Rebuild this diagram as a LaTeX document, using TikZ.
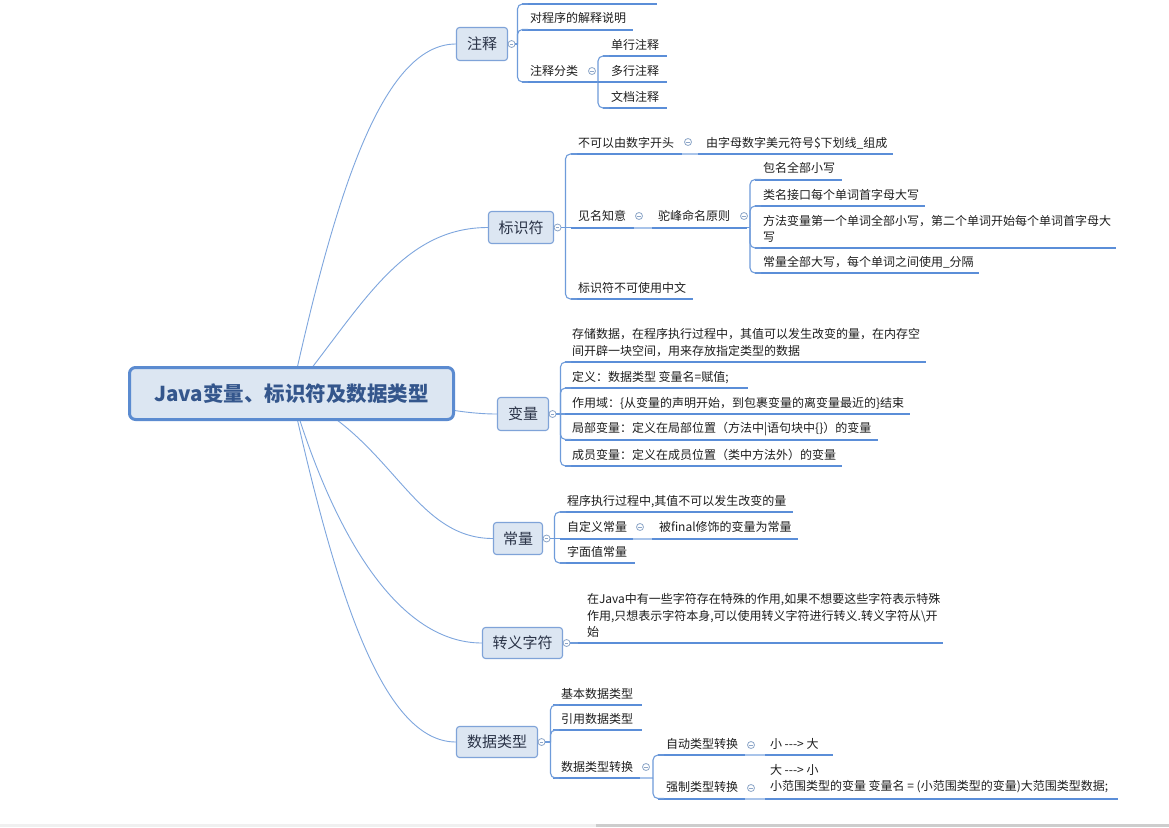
\documentclass[tikz,border=0pt]{standalone}
\usepackage{fontspec}
\setmainfont{Noto Sans CJK SC}
\usetikzlibrary{backgrounds}
\definecolor{topicfill}{HTML}{DCE6F2}
\definecolor{topicborder}{HTML}{7FA3D8}
\definecolor{rootborder}{HTML}{5B8BD0}
\definecolor{roottext}{HTML}{34568C}
\definecolor{topictext}{HTML}{2A3347}
\definecolor{leaftext}{HTML}{1E1E1E}
\definecolor{branchcol}{HTML}{7EA6DE}
\definecolor{brkcol}{HTML}{6E9BDA}
\definecolor{ulcol}{HTML}{5B8ED8}
\definecolor{lnkcol}{HTML}{A9C4EA}
\definecolor{markcol}{HTML}{8DA6C8}
\definecolor{sbA}{HTML}{F0F0F0}
\definecolor{sbB}{HTML}{CDCDCD}
\newcommand\leaf[5][]{\node[leaf,#1] (#2) at (#3) {#5};\draw[ul] (#2.south west) -- ++(#4,0);}
\begin{document}
\begin{tikzpicture}[x=1pt,y=-1pt,
  leaf/.style={anchor=south west, inner xsep=8pt, inner ysep=5.4pt, outer sep=0pt, font=\fontsize{12}{16.5}\selectfont, text=leaftext, text height=9pt, text depth=1.5pt},
  mline/.style={text height=, text depth=, align=left},
  topic/.style={draw=topicborder, fill=topicfill, line width=1.1pt, rounded corners=3pt, font=\fontsize{15}{18}\selectfont, text=topictext, inner sep=0pt},
  root/.style={draw=rootborder, fill=topicfill, line width=3pt, rounded corners=6pt, font=\fontsize{20.5}{24}\selectfont\bfseries, text=roottext, minimum width=324pt, minimum height=52pt, inner sep=0pt},
  marker/.style={circle, draw=markcol, fill=white, line width=0.8pt, minimum size=7pt, inner sep=0pt, path picture={\draw[markcol,line width=0.7pt] ([xshift=-1.8pt]path picture bounding box.center) -- ([xshift=1.8pt]path picture bounding box.center);}},
  branch/.style={draw=branchcol, line width=0.9pt},
  brk/.style={draw=brkcol, line width=1.1pt, rounded corners=5pt},
  ul/.style={draw=ulcol, line width=2pt},
  lnk/.style={draw=lnkcol, line width=2pt}
]
\useasboundingbox (0,0) rectangle (1169,827);
% root and main topics
\node[root] (root) at (291.5,393.5) {Java变量、标识符及数据类型};
\node[topic, minimum width=51pt, minimum height=33pt] (t1) at (482,44) {注释};
\node[topic, minimum width=65pt, minimum height=32pt] (t2) at (521,227.5) {标识符};
\node[topic, minimum width=51pt, minimum height=33pt] (t3) at (523,414) {变量};
\node[topic, minimum width=49pt, minimum height=32pt] (t4) at (518,538.5) {常量};
\node[topic, minimum width=80pt, minimum height=31pt] (t5) at (522.5,643) {转义字符};
\node[topic, minimum width=81pt, minimum height=31pt] (t6) at (497,742) {数据类型};
\begin{pgfonlayer}{background}
\fill[white] (0,0) rectangle (1169,827);
\fill[sbA] (0,824) rectangle (596,827);
\fill[sbB] (596,824) rectangle (1169,827);
\draw[branch] (root.center) .. controls (335,195) and (382,44) .. (t1.west);
\draw[branch] (root.center) .. controls (360,310) and (400,227.5) .. (t2.west);
\draw[branch] (root.center) .. controls (400,393) and (440,414) .. (t3.west);
\draw[branch] (root.center) .. controls (392,436) and (412,538.5) .. (t4.west);
\draw[branch] (root.center) .. controls (335,540) and (400,643) .. (t5.west);
\draw[branch] (root.center) .. controls (335,590) and (382,742) .. (t6.west);
\end{pgfonlayer}
\node[marker] (m1) at ([xshift=3.5pt]t1.east) {};
\node[marker] (m2) at ([xshift=3.5pt]t2.east) {};
\node[marker] (m3) at ([xshift=3.5pt]t3.east) {};
\node[marker] (m4) at ([xshift=3.5pt]t4.east) {};
\node[marker] (m5) at ([xshift=3.5pt]t5.east) {};
\node[marker] (m6) at ([xshift=3.5pt]t6.east) {};

% ---------- 注释 ----------
\coordinate (z0) at (522,4);
\leaf{dcx}{522,29.5}{111}{对程序的解释说明}
\leaf{fl}{522,82}{76}{注释分类}
\leaf{dh}{603,56}{64}{单行注释}
\leaf{duo}{603,82}{64}{多行注释}
\leaf{wd}{603,108}{64}{文档注释}
\draw[ul] (z0) -- ++(135,0);
\coordinate (bx1) at ([xshift=2pt]m1.east);
\draw[brk] (m1.east) -- (bx1);
\draw[brk] (bx1) |- ([xshift=6pt]z0);
\draw[brk] (bx1) |- ([xshift=6pt]dcx.south west);
\draw[brk] (bx1) |- ([xshift=6pt]fl.south west);
\node[marker] (mf) at (592,71) {};
\coordinate (fle) at ([xshift=76pt]fl.south west);
\draw[brk] (fle) |- ([xshift=6pt]dh.south west);
\draw[brk] (fle) |- ([xshift=6pt]wd.south west);
\draw[ul] (fle) -- (duo.south west);

% ---------- 标识符 ----------
\leaf[inner xsep=7pt]{a1}{571,154}{111}{不可以由数字开头}
\leaf{a2}{698,154}{195}{由字母数字美元符号\$下划线\_组成}
\leaf[inner xsep=7pt]{b1}{571,227.5}{63}{见名知意}
\leaf[inner xsep=6pt]{b2}{652,227.5}{95}{驼峰命名原则}
\leaf{c1}{755,179.5}{87}{包名全部小写}
\leaf{c2}{755,206}{170}{类名接口每个单词首字母大写}
\leaf[mline]{c3}{755,248}{361}{方法变量第一个单词全部小写，第二个单词开始每个单词首字母大\\写}
\leaf{c4}{755,273}{224}{常量全部大写，每个单词之间使用\_分隔}
\leaf[inner xsep=7pt]{d1}{571,299}{122}{标识符不可使用中文}
\coordinate (bx2) at ([xshift=4pt]m2.east);
\draw[brk] (m2.east) -- (bx2);
\draw[brk] (bx2) |- ([xshift=6pt]a1.south west);
\draw[brk] (bx2) -- (b1.south west);
\draw[brk] (bx2) |- ([xshift=6pt]d1.south west);
\node[marker] (ma) at (688,142) {};
\draw[lnk] ([xshift=111pt]a1.south west) -- (a2.south west);
\node[marker] (mb1) at (639,216) {};
\draw[lnk] ([xshift=63pt]b1.south west) -- (b2.south west);
\node[marker] (mb2) at (744,216) {};
\coordinate (b2e) at ([xshift=95pt]b2.south west);
\coordinate (bx3) at ([xshift=3pt]b2e);
\draw[brk] (b2e) -- (bx3);
\draw[brk] (bx3) |- ([xshift=6pt]c1.south west);
\draw[brk] (bx3) |- ([xshift=6pt]c2.south west);
\draw[brk] (bx3) |- ([xshift=6pt]c3.south west);
\draw[brk] (bx3) |- ([xshift=6pt]c4.south west);

% ---------- 变量 ----------
\leaf[mline,inner xsep=7pt]{v1}{565,362}{361}{存储数据，在程序执行过程中，其值可以发生改变的量，在内存空\\间开辟一块空间，用来存放指定类型的数据}
\leaf[inner xsep=7pt]{v2}{565,388}{183}{定义：数据类型 变量名=赋值;}
\leaf[inner xsep=7pt]{v3}{565,414}{345}{作用域：\{从变量的声明开始，到包裹变量的离变量最近的\}结束}
\leaf[inner xsep=7pt]{v4}{565,439.5}{313}{局部变量：定义在局部位置（方法中|语句块中\{\}）的变量}
\leaf[inner xsep=7pt]{v5}{565,466}{277}{成员变量：定义在成员位置（类中方法外）的变量}
\coordinate (bx4) at ([xshift=4pt]m3.east);
\draw[brk] (m3.east) -- (bx4);
\draw[brk] (bx4) |- ([xshift=6pt]v1.south west);
\draw[brk] (bx4) |- ([xshift=6pt]v2.south west);
\draw[brk] (bx4) -- (v3.south west);
\draw[brk] (bx4) |- ([xshift=6pt]v4.south west);
\draw[brk] (bx4) |- ([xshift=6pt]v5.south west);

% ---------- 常量 ----------
\leaf[inner xsep=7pt]{k1}{560,512}{233}{程序执行过程中,其值不可以发生改变的量}
\leaf[inner xsep=7pt]{k2}{560,538.5}{73}{自定义常量}
\leaf[inner xsep=7pt]{k3}{652,538.5}{146}{被final修饰的变量为常量}
\leaf[inner xsep=7pt]{k4}{560,563}{75}{字面值常量}
\coordinate (bx5) at ([xshift=4pt]m4.east);
\draw[brk] (m4.east) -- (bx5);
\draw[brk] (bx5) |- ([xshift=6pt]k1.south west);
\draw[brk] (bx5) -- (k2.south west);
\draw[brk] (bx5) |- ([xshift=6pt]k4.south west);
\node[marker] (mk) at (640,527) {};
\draw[lnk] ([xshift=73pt]k2.south west) -- (k3.south west);

% ---------- 转义字符 ----------
\leaf[mline,inner xsep=9pt]{e1}{578,643}{365}{在Java中有一些字符存在特殊的作用,如果不想要这些字符表示特殊\\作用,只想表示字符本身,可以使用转义字符进行转义.转义字符从\textbackslash{}开\\始}
\draw[brk] (m5.east) -- (e1.south west);

% ---------- 数据类型 ----------
\leaf{s1}{553,705}{89}{基本数据类型}
\leaf{s2}{553,730}{89}{引用数据类型}
\leaf{s3}{553,778}{87}{数据类型转换}
\coordinate (bx6) at ([xshift=5pt]m6.east);
\draw[brk] (m6.east) -- (bx6);
\draw[brk] (bx6) |- ([xshift=6pt]s1.south west);
\draw[brk] (bx6) |- ([xshift=6pt]s2.south west);
\draw[brk] (bx6) |- ([xshift=6pt]s3.south west);
\node[marker] (ms) at (646,767) {};
\coordinate (s3e) at ([xshift=87pt]s3.south west);
\coordinate (bx7) at ([xshift=13pt]s3e);
\draw[lnk] (s3e) -- (bx7);
\leaf{u1}{658,755}{87}{自动类型转换}
\leaf[inner xsep=5pt]{u2}{765,755}{68}{小 \mbox{-}\mbox{-}\mbox{-}> 大}
\leaf{w1}{658,798.5}{87}{强制类型转换}
\leaf[mline,inner xsep=5pt]{w2}{765,798.5}{353}{大 \mbox{-}\mbox{-}\mbox{-}> 小\\小范围类型的变量 变量名 = (小范围类型的变量)大范围类型数据;}
\draw[brk] (bx7) |- ([xshift=6pt]u1.south west);
\draw[brk] (bx7) |- ([xshift=6pt]w1.south west);
\node[marker] (mu1) at (751,745) {};
\node[marker] (mw1) at (751,788) {};
\draw[lnk] ([xshift=87pt]u1.south west) -- (u2.south west);
\draw[lnk] ([xshift=87pt]w1.south west) -- (w2.south west);
\end{tikzpicture}
\end{document}
